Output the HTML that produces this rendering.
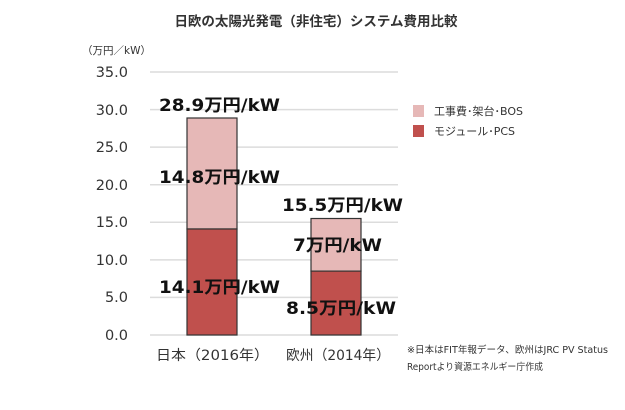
<!DOCTYPE html>
<html><head><meta charset="utf-8"><style>
body{margin:0;background:#fff;}
svg text{font-family:"DejaVu Sans","Noto Sans CJK JP",sans-serif;}
</style></head><body>
<svg width="625" height="405" xmlns="http://www.w3.org/2000/svg">
<text x="316" y="26" font-size="13.5" font-weight="bold" fill="#333" text-anchor="middle">日欧の太陽光発電（非住宅）システム費用比較</text>
<text x="82" y="54" font-size="10.5" fill="#333">（万円／kW）</text>
<g stroke="#dcdcdc" stroke-width="1.5">
<line x1="150" x2="398" y1="72" y2="72"/><line x1="150" x2="398" y1="109.6" y2="109.6"/>
<line x1="150" x2="398" y1="147.1" y2="147.1"/><line x1="150" x2="398" y1="184.7" y2="184.7"/>
<line x1="150" x2="398" y1="222.3" y2="222.3"/><line x1="150" x2="398" y1="259.9" y2="259.9"/>
<line x1="150" x2="398" y1="297.4" y2="297.4"/><line x1="150" x2="398" y1="335" y2="335"/>
</g>
<g font-size="14.5" fill="#333" text-anchor="end">
<text x="128" y="77">35.0</text><text x="128" y="115">30.0</text><text x="128" y="152">25.0</text>
<text x="128" y="190">20.0</text><text x="128" y="227">15.0</text><text x="128" y="265">10.0</text>
<text x="128" y="302">5.0</text><text x="128" y="340">0.0</text>
</g>
<g stroke="#333" stroke-width="1.2">
<rect x="187" y="118" width="50" height="111" fill="#e6b8b7"/>
<rect x="187" y="229" width="50" height="106" fill="#c0504d"/>
<rect x="311" y="218.5" width="50" height="52.6" fill="#e6b8b7"/>
<rect x="311" y="271.1" width="50" height="63.9" fill="#c0504d"/>
</g>
<g font-size="17" font-weight="bold" fill="#111">
<text x="159" y="111" textLength="121" lengthAdjust="spacingAndGlyphs">28.9万円/kW</text>
<text x="159" y="183" textLength="121" lengthAdjust="spacingAndGlyphs">14.8万円/kW</text>
<text x="159" y="293" textLength="121" lengthAdjust="spacingAndGlyphs">14.1万円/kW</text>
<text x="282" y="211" textLength="121" lengthAdjust="spacingAndGlyphs">15.5万円/kW</text>
<text x="293" y="251" textLength="89" lengthAdjust="spacingAndGlyphs">7万円/kW</text>
<text x="286" y="314" textLength="110" lengthAdjust="spacingAndGlyphs">8.5万円/kW</text>
</g>
<g font-size="14" fill="#333">
<text x="156" y="360" textLength="113" lengthAdjust="spacingAndGlyphs">日本（2016年）</text>
<text x="286" y="360" textLength="104" lengthAdjust="spacingAndGlyphs">欧州（2014年）</text>
</g>
<rect x="413" y="105" width="11" height="12" fill="#e6b8b7"/>
<rect x="413" y="125" width="11" height="12" fill="#c0504d"/>
<g font-size="11" fill="#333">
<text x="434" y="115">工事費･架台･BOS</text>
<text x="434" y="135">モジュール･PCS</text>
</g>
<g font-size="9.5" fill="#333">
<text x="407" y="353" textLength="201" lengthAdjust="spacingAndGlyphs">※日本はFIT年報データ、欧州はJRC PV Status</text>
<text x="407" y="370" textLength="136" lengthAdjust="spacingAndGlyphs">Reportより資源エネルギー庁作成</text>
</g>
</svg>
</body></html>
